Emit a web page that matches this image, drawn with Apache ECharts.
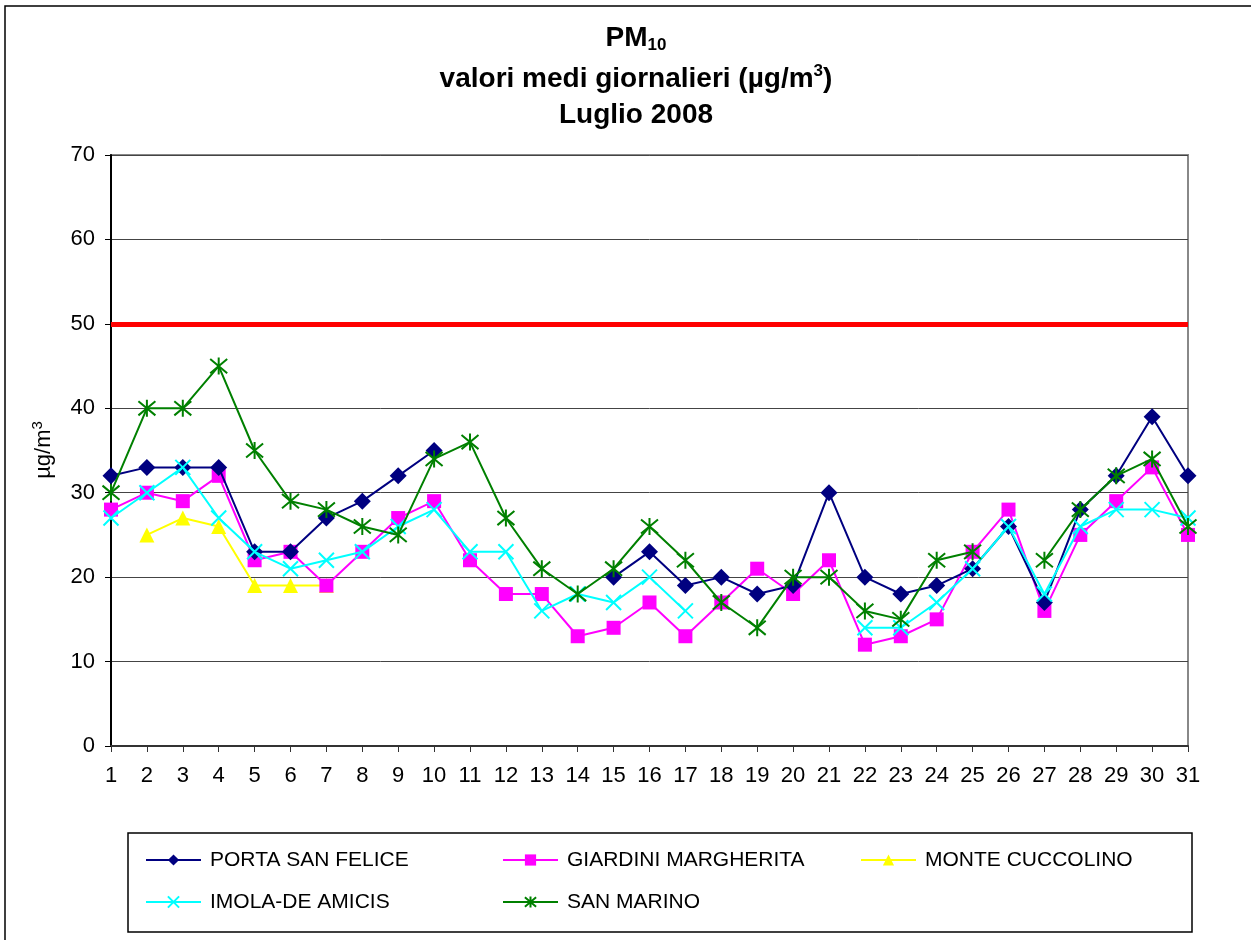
<!DOCTYPE html>
<html>
<head>
    <meta charset="utf-8">
    <title>PM10 Luglio 2008</title>
    <script src="https://cdn.jsdelivr.net/npm/echarts@6/dist/echarts.min.js"></script>
    <style>
        html, body { margin: 0; padding: 0; background: #fff; }
    </style>
</head>
<body>
    <div id="main" style="width: 1251px;height:940px;"></div>
    <script type="text/javascript">
        // giorni di luglio
        var giorni = [];
        for (var d = 1; d <= 31; d++) giorni.push(String(d));

        var yTicks = [0, 10, 20, 30, 40, 50, 60, 70];
        var limite = 50;

        var portaSanFelice = [32, 33, 33, 33, 23, 23, 27, 29, 32, 35, null, null, null, null, 20, 23, 19, 20, 18, 19, 30, 20, 18, 19, 21, 26, 17, 28, 32, 39, 32];
        var giardiniMargherita = [28, 30, 29, 32, 22, 23, 19, 23, 27, 29, 22, 18, 18, 13, 14, 17, 13, 17, 21, 18, 22, 12, 13, 15, 23, 28, 16, 25, 29, 33, 25];
        var monteCuccolino = [null, 25, 27, 26, 19, 19, 19, null, null, null, null, null, null, null, null, null, null, null, null, null, null, null, null, null, null, null, null, null, null, null, null];
        var imolaDeAmicis = [27, 30, 33, 27, 23, 21, 22, 23, 26, 28, 23, 23, 16, 18, 17, 20, 16, null, null, null, null, 14, 14, 17, 21, 26, 18, 26, 28, 28, 27];
        var sanMarino = [30, 40, 40, 45, 35, 29, 28, 26, 25, 34, 36, 27, 21, 18, 21, 26, 22, 17, 14, 20, 20, 16, 15, 22, 23, null, 22, 28, 32, 34, 26];

        var FONT = 'Liberation Sans, Arial, sans-serif';
        var crocePath = 'path://M0 0L10 10M10 0L0 10';
        var asteriscoPath = 'path://M0 0L10 10M10 0L0 10M5 -1L5 11';

        function serie(nome, dati, colore, simbolo, size, extra) {
            var s = {
                name: nome,
                type: 'line',
                data: dati,
                symbol: simbolo,
                symbolSize: size,
                showAllSymbol: true,
                lineStyle: { color: colore, width: 2 },
                itemStyle: { color: colore },
                animation: false
            };
            if (extra) {
                for (var k in extra) s[k] = extra[k];
            }
            return s;
        }

        var legendText = { fontSize: 21, color: '#000', fontFamily: FONT, lineHeight: 22, padding: [0, 0, 0, 4] };

        var myChart = echarts.init(document.getElementById('main'));
        var option = {
            backgroundColor: '#fff',
            textStyle: { fontFamily: FONT },
            graphic: [
                {
                    type: 'rect',
                    shape: { x: 5, y: 6, width: 1300, height: 1000 },
                    style: { fill: 'none', stroke: '#000', lineWidth: 1.5 },
                    silent: true
                },
                {
                    type: 'rect',
                    shape: { x: 128, y: 833, width: 1064, height: 99 },
                    style: { fill: 'none', stroke: '#000', lineWidth: 1.5 },
                    silent: true
                },
                {
                    type: 'text',
                    x: 636, y: 38,
                    style: {
                        text: '{b|PM}{s|10}',
                        textAlign: 'center', textVerticalAlign: 'middle',
                        rich: {
                            b: { font: 'bold 28px ' + FONT, fill: '#000', lineHeight: 32 },
                            s: { font: 'bold 17px ' + FONT, fill: '#000', lineHeight: 32, verticalAlign: 'bottom', padding: [14, 0, 0, 0] }
                        }
                    }
                },
                {
                    type: 'text',
                    x: 636, y: 79,
                    style: {
                        text: '{b|valori medi giornalieri (µg/m}{p|3}{b|)}',
                        textAlign: 'center', textVerticalAlign: 'middle',
                        rich: {
                            b: { font: 'bold 28px ' + FONT, fill: '#000', lineHeight: 32 },
                            p: { font: 'bold 17px ' + FONT, fill: '#000', lineHeight: 32, verticalAlign: 'top', padding: [0, 0, 12, 0] }
                        }
                    }
                },
                {
                    type: 'text',
                    x: 636, y: 115,
                    style: {
                        text: 'Luglio 2008',
                        textAlign: 'center', textVerticalAlign: 'middle',
                        font: 'bold 28px ' + FONT, fill: '#000'
                    }
                },
                {
                    type: 'text',
                    x: 44, y: 450,
                    rotation: Math.PI / 2,
                    style: {
                        text: '{n|µg/m}{p|3}',
                        textAlign: 'center', textVerticalAlign: 'middle',
                        rich: {
                            n: { font: '22px ' + FONT, fill: '#000', lineHeight: 28 },
                            p: { font: '15px ' + FONT, fill: '#000', lineHeight: 28, verticalAlign: 'top', padding: [0, 0, 9, 0] }
                        }
                    }
                }
            ],
            legend: [
                {
                    data: ['PORTA SAN FELICE', 'IMOLA-DE AMICIS'],
                    orient: 'vertical', left: 140, top: 844,
                    itemWidth: 55, itemHeight: 14, itemGap: 20,
                    textStyle: legendText
                },
                {
                    data: ['GIARDINI MARGHERITA', 'SAN MARINO'],
                    orient: 'vertical', left: 497, top: 844,
                    itemWidth: 55, itemHeight: 14, itemGap: 20,
                    textStyle: legendText
                },
                {
                    data: ['MONTE CUCCOLINO'],
                    orient: 'vertical', left: 855, top: 844,
                    itemWidth: 55, itemHeight: 14, itemGap: 20,
                    textStyle: legendText
                }
            ],
            grid: {
                left: 111, right: 63, top: 155, bottom: 194,
                show: true, borderColor: '#888', borderWidth: 2, backgroundColor: '#fff'
            },
            xAxis: {
                type: 'category',
                data: giorni,
                boundaryGap: false,
                axisLine: { lineStyle: { color: '#333', width: 2 } },
                axisTick: { alignWithLabel: true, length: 6, lineStyle: { color: '#333' } },
                axisLabel: { fontSize: 22, color: '#000', margin: 19, interval: 0 },
                splitLine: { show: false }
            },
            yAxis: {
                type: 'value',
                min: yTicks[0], max: yTicks[yTicks.length - 1], interval: 10,
                axisLine: { show: true, lineStyle: { color: '#000', width: 2 } },
                axisTick: { show: true, length: 6, lineStyle: { color: '#000' } },
                axisLabel: { fontSize: 22, color: '#000', margin: 16 },
                splitLine: { show: true, lineStyle: { color: '#444', width: 1 } }
            },
            series: [
                serie('PORTA SAN FELICE', portaSanFelice, '#000080', 'diamond', 17, {
                    markLine: {
                        silent: true,
                        symbol: 'none',
                        label: { show: false },
                        lineStyle: { color: '#ff0000', width: 5, type: 'solid' },
                        data: [{ yAxis: limite }],
                        animation: false
                    },
                    z: 5
                }),
                serie('GIARDINI MARGHERITA', giardiniMargherita, '#ff00ff', 'rect', 14, { z: 4 }),
                serie('MONTE CUCCOLINO', monteCuccolino, '#ffff00', 'triangle', 15, { z: 3 }),
                serie('IMOLA-DE AMICIS', imolaDeAmicis, '#00ffff', crocePath, 15, {
                    itemStyle: { color: '#00ffff', borderColor: '#00ffff', borderWidth: 2 },
                    z: 6
                }),
                serie('SAN MARINO', sanMarino, '#008000', asteriscoPath, 17, {
                    itemStyle: { color: '#008000', borderColor: '#008000', borderWidth: 2 },
                    z: 7
                })
            ]
        };
        myChart.setOption(option);
    </script>
</body>
</html>
